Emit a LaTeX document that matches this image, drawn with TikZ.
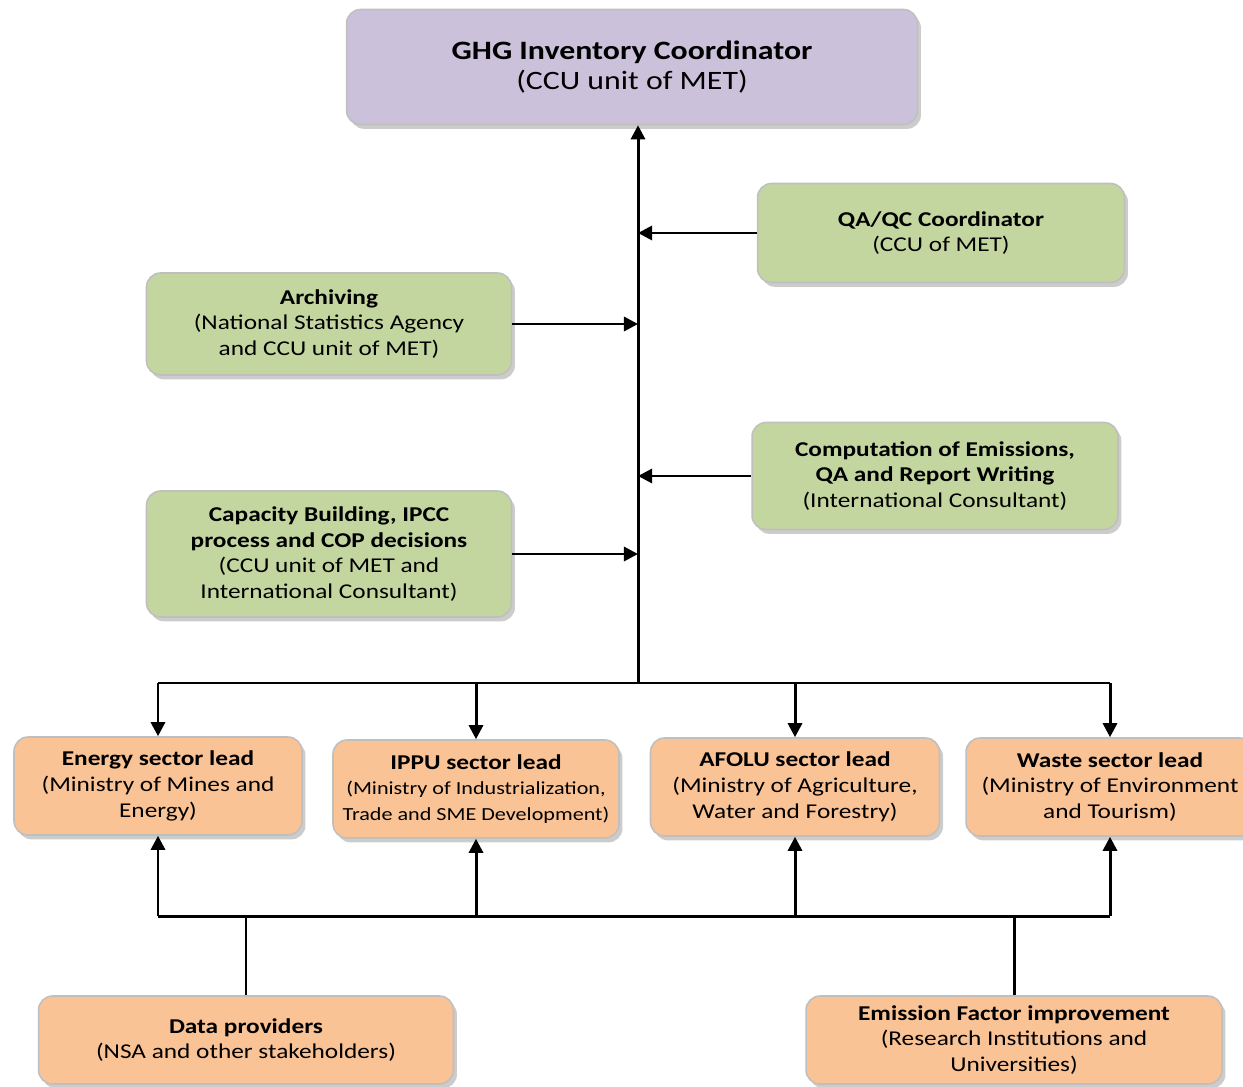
\documentclass[tikz,border=0pt]{standalone}
\usepackage{fontspec}
\setmainfont{Carlito}[FakeStretch=1.2]
\usetikzlibrary{arrows.meta,shadows}

\definecolor{lavender}{RGB}{204,193,218}
\definecolor{leaf}{RGB}{196,214,160}
\definecolor{peach}{RGB}{250,195,150}

\tikzset{
    box/.style={draw=gray!50, line width=0.9pt, rounded corners=8pt, align=center,
        inner sep=2pt, drop shadow={opacity=0.4, shadow xshift=2pt, shadow yshift=-2.5pt},
        font=\fontsize{12}{14.7}\selectfont},
    head/.style={box, fill=lavender, font=\fontsize{15.1}{17.6}\selectfont},
    task/.style={box, fill=leaf},
    lead/.style={box, fill=peach},
    link/.style={line width=1.7pt},
    arr/.style={link, -{Triangle[length=8pt,width=8pt]}},
}

\begin{document}
\begin{tikzpicture}[x=0.02cm,y=-0.02cm]
    \useasboundingbox (0,0) rectangle (1243,1087);

    % coordinator
    \node[head, minimum width=11.42cm, minimum height=2.3cm] (ghg) at (632,67)
        {\textbf{GHG Inventory Coordinator}\\(CCU unit of MET)};

    % supporting tasks
    \node[task, minimum width=7.34cm, minimum height=1.98cm] (qaqc) at (941,233)
        {\textbf{QA/QC Coordinator}\\(CCU of MET)};
    \node[task, minimum width=7.3cm, minimum height=2.04cm] (arch) at (329,324)
        {\textbf{Archiving}\\(National Statistics Agency\\and CCU unit of MET)};
    \node[task, minimum width=7.32cm, minimum height=2.14cm] (comp) at (935,476)
        {\textbf{Computation of Emissions,}\\\textbf{QA and Report Writing}\\(International Consultant)};
    \node[task, minimum width=7.3cm, minimum height=2.52cm] (capb) at (329,554)
        {\textbf{Capacity Building, IPCC}\\\textbf{process and COP decisions}\\(CCU unit of MET and\\International Consultant)};

    % sector leads
    \node[lead, minimum width=5.76cm, minimum height=1.96cm] (energy) at (158,786)
        {\textbf{Energy sector lead}\\(Ministry of Mines and\\Energy)};
    \node[lead, minimum width=5.72cm, minimum height=1.96cm] (ippu) at (476,789)
        {\textbf{IPPU sector lead}\\{\fontsize{10.5}{14.7}\selectfont(Ministry of Industrialization,}\\{\fontsize{10.5}{14.7}\selectfont Trade and SME Development)}};
    \node[lead, minimum width=5.78cm, minimum height=1.96cm] (afolu) at (795,787)
        {\textbf{AFOLU sector lead}\\(Ministry of Agriculture,\\Water and Forestry)};
    \node[lead, minimum width=5.76cm, minimum height=1.96cm] (waste) at (1110,787)
        {\textbf{Waste sector lead}\\(Ministry of Environment\\and Tourism)};

    % data sources
    \node[lead, minimum width=8.3cm, minimum height=1.76cm] (data) at (246,1040)
        {\textbf{Data providers}\\(NSA and other stakeholders)};
    \node[lead, minimum width=8.32cm, minimum height=1.76cm] (efi) at (1014,1040)
        {\textbf{Emission Factor improvement}\\(Research Institutions and\\Universities)};

    \coordinate (hub) at (638,683);
    \coordinate (lowbus) at (638,916);

    % trunk and side arrows
    \draw[arr] (hub) -- (hub |- ghg.south);
    \draw[arr] (qaqc.west) -- (qaqc.west -| hub);
    \draw[arr] (arch.east) -- (arch.east -| hub);
    \draw[arr] (comp.west) -- (comp.west -| hub);
    \draw[arr] (capb.east) -- (capb.east -| hub);

    % buses
    \draw[link] (energy.north |- hub) -- (waste.north |- hub);
    \draw[link] (energy.south |- lowbus) -- (waste.south |- lowbus);
    \foreach \s in {energy,ippu,afolu,waste} {
        \draw[arr] (\s.north |- hub) -- (\s.north);
        \draw[arr] (\s.south |- lowbus) -- (\s.south);
    }
    \draw[link] (data.north) -- (data.north |- lowbus);
    \draw[link] (efi.north) -- (efi.north |- lowbus);
\end{tikzpicture}
\end{document}
